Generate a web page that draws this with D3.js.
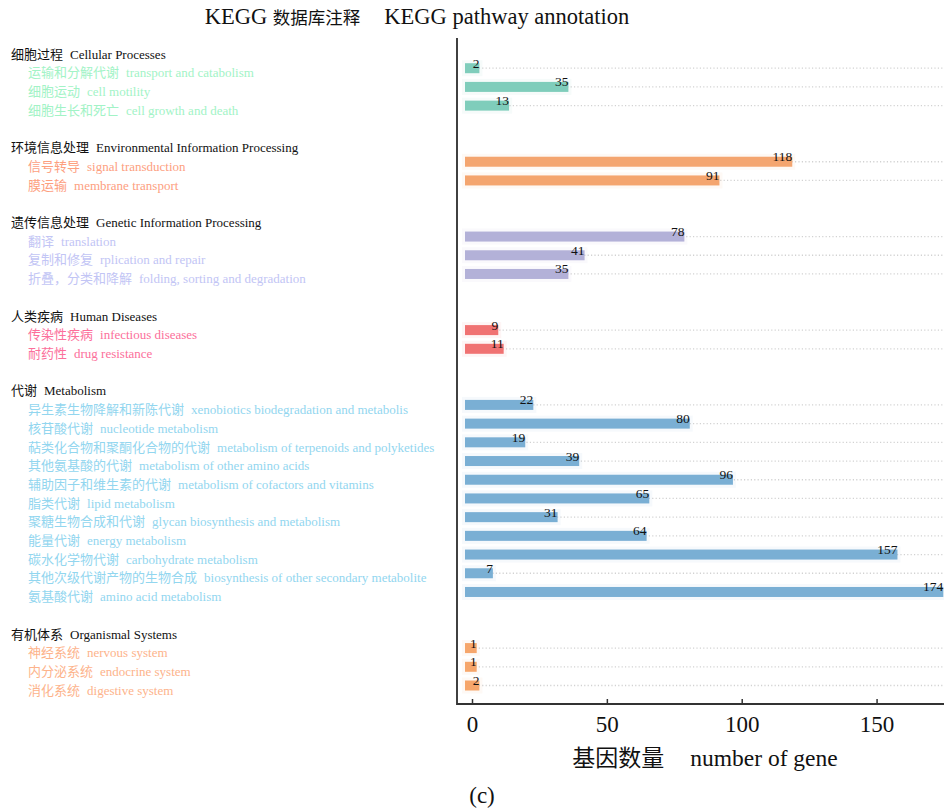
<!DOCTYPE html>
<html>
<head>
<meta charset="utf-8">
<script src="https://cdn.jsdelivr.net/npm/d3@7/dist/d3.min.js"></script>
<style>
  html, body { margin: 0; padding: 0; background: #fff; }
  svg { display: block; }
  text { font-family: "Liberation Serif", "Noto Sans CJK SC", serif; }
</style>
</head>
<body>
<script>
// KEGG level-1 categories
const groupCn = ["细胞过程", "环境信息处理", "遗传信息处理", "人类疾病", "代谢", "有机体系"];
const groupEn = ["Cellular Processes", "Environmental Information Processing", "Genetic Information Processing",
                 "Human Diseases", "Metabolism", "Organismal Systems"];

// KEGG level-2 pathways, their parent category and gene counts
const pathwayCn = [
  "运输和分解代谢", "细胞运动", "细胞生长和死亡",
  "信号转导", "膜运输",
  "翻译", "复制和修复", "折叠，分类和降解",
  "传染性疾病", "耐药性",
  "异生素生物降解和新陈代谢", "核苷酸代谢", "萜类化合物和聚酮化合物的代谢", "其他氨基酸的代谢",
  "辅助因子和维生素的代谢", "脂类代谢", "聚糖生物合成和代谢", "能量代谢", "碳水化学物代谢",
  "其他次级代谢产物的生物合成", "氨基酸代谢",
  "神经系统", "内分泌系统", "消化系统"
];
const pathwayEn = [
  "transport and catabolism", "cell motility", "cell growth and death",
  "signal transduction", "membrane transport",
  "translation", "rplication and repair", "folding, sorting and degradation",
  "infectious diseases", "drug resistance",
  "xenobiotics biodegradation and metabolis", "nucleotide metabolism",
  "metabolism of terpenoids and polyketides", "metabolism of other amino acids",
  "metabolism of cofactors and vitamins", "lipid metabolism", "glycan biosynthesis and metabolism",
  "energy metabolism", "carbohydrate metabolism", "biosynthesis of other secondary metabolite",
  "amino acid metabolism",
  "nervous system", "endocrine system", "digestive system"
];
const pathwayGroup = [0, 0, 0, 1, 1, 2, 2, 2, 3, 3, 4, 4, 4, 4, 4, 4, 4, 4, 4, 4, 4, 5, 5, 5];
const geneCounts = [2, 35, 13, 118, 91, 78, 41, 35, 9, 11, 22, 80, 19, 39, 96, 65, 31, 64, 157, 7, 174, 1, 1, 2];

const xTicks = [0, 50, 100, 150];

// Colours per category: bars and pathway labels
const barColors   = ["#7fcdbb", "#f4a56f", "#b3b1d8", "#f07272", "#7aafd4", "#f6a66b"];
const labelColors = ["#a2f3c6", "#fda07f", "#c2c5f5", "#fc6f9b", "#92d6ef", "#fdb38b"];

const W = 944, H = 812;

// Row layout: header, pathways, blank spacer between categories
const rows = [];
groupCn.forEach((g, gi) => {
  rows.push({ key: "h" + gi, type: "header", group: gi });
  pathwayCn.forEach((p, pi) => {
    if (pathwayGroup[pi] === gi) rows.push({ key: "p" + pi, type: "item", group: gi, idx: pi });
  });
  if (gi < groupCn.length - 1) rows.push({ key: "s" + gi, type: "space", group: gi });
});

const svg = d3.select("body").append("svg").attr("width", W).attr("height", H);
svg.append("rect").attr("width", W).attr("height", H).attr("fill", "#fff");

const y = d3.scalePoint().domain(rows.map(r => r.key)).range([54, 690]);
const x = d3.scaleLinear().domain([0, 175]).range([472, 944]);

const barH = 10, barShift = -4.5, barLead = 7, barCap = 2;
const axisLeft = 457, axisBottom = 704;

// Title
const title = svg.append("text").attr("x", 417).attr("y", 24).attr("text-anchor", "middle")
  .attr("fill", "#111");
title.append("tspan").attr("font-size", 22.5).text("KEGG ");
title.append("tspan").attr("font-size", 17.5).text("数据库注释");
title.append("tspan").attr("font-size", 22.5).attr("dx", 24).text("KEGG pathway annotation");

// Left-hand labels
const labelG = svg.append("g");
rows.filter(r => r.type !== "space").forEach(r => {
  const t = labelG.append("text").attr("y", y(r.key)).attr("dy", "0.36em").attr("font-size", 13);
  if (r.type === "header") {
    t.attr("x", 11).attr("fill", "#111");
    t.append("tspan").text(groupCn[r.group]);
    t.append("tspan").attr("dx", 7).text(groupEn[r.group]);
  } else {
    t.attr("x", 28).attr("fill", labelColors[r.group]);
    t.append("tspan").text(pathwayCn[r.idx]);
    t.append("tspan").attr("dx", 7).text(pathwayEn[r.idx]);
  }
});

const items = rows.filter(r => r.type === "item");
const plot = svg.append("g");

// Dotted guide lines behind each bar
plot.selectAll("line.guide").data(items).join("line")
  .attr("class", "guide")
  .attr("x1", x(0)).attr("x2", W)
  .attr("y1", d => y(d.key) + barShift).attr("y2", d => y(d.key) + barShift)
  .attr("stroke", "#d2d2d2").attr("stroke-width", 1.3).attr("stroke-dasharray", "1.2,2.2");

// Soft halo around bars
plot.selectAll("rect.halo").data(items).join("rect")
  .attr("class", "halo")
  .attr("x", x(0) - barLead - 3)
  .attr("y", d => y(d.key) + barShift - barH / 2 - 3)
  .attr("width", d => x(geneCounts[d.idx]) - x(0) + barLead + barCap + 6)
  .attr("height", barH + 6)
  .attr("fill", d => barColors[d.group]).attr("opacity", 0.07);

// Bars
plot.selectAll("rect.bar").data(items).join("rect")
  .attr("class", "bar")
  .attr("x", x(0) - barLead)
  .attr("y", d => y(d.key) + barShift - barH / 2)
  .attr("width", d => x(geneCounts[d.idx]) - x(0) + barLead + barCap)
  .attr("height", barH)
  .attr("fill", d => barColors[d.group]);

// Value labels
plot.selectAll("text.val").data(items).join("text")
  .attr("class", "val")
  .attr("x", d => x(geneCounts[d.idx]) + barCap)
  .attr("y", d => y(d.key) + barShift - 0.5)
  .attr("text-anchor", "end").attr("font-size", 13.5).attr("fill", "#111")
  .text(d => geneCounts[d.idx]);

// Axes frame
svg.append("line").attr("x1", axisLeft).attr("x2", axisLeft).attr("y1", 38).attr("y2", axisBottom + 1)
  .attr("stroke", "#111").attr("stroke-width", 1.6);

const xAxis = d3.axisBottom(x).tickValues(xTicks).tickSizeInner(-5).tickSizeOuter(0).tickPadding(12);
const xg = svg.append("g").attr("transform", `translate(0,${axisBottom})`).call(xAxis);
xg.select(".domain").remove();
xg.append("line").attr("x1", axisLeft).attr("x2", W).attr("y1", 0).attr("y2", 0)
  .attr("stroke", "#333").attr("stroke-width", 2);
xg.selectAll(".tick line").attr("stroke", "#333").attr("stroke-width", 1.5);
xg.selectAll(".tick text").attr("font-size", 23).attr("fill", "#111")
  .attr("font-family", "'Liberation Serif', serif");

// Axis title
const xt = svg.append("text").attr("x", 705).attr("y", 766).attr("text-anchor", "middle").attr("fill", "#111");
xt.append("tspan").attr("font-size", 23).text("基因数量");
xt.append("tspan").attr("font-size", 23.5).attr("dx", 26).text("number of gene");

// Panel tag
svg.append("text").attr("x", 482).attr("y", 803).attr("text-anchor", "middle")
  .attr("font-size", 23).attr("fill", "#111").text("(c)");
</script>
</body>
</html>
